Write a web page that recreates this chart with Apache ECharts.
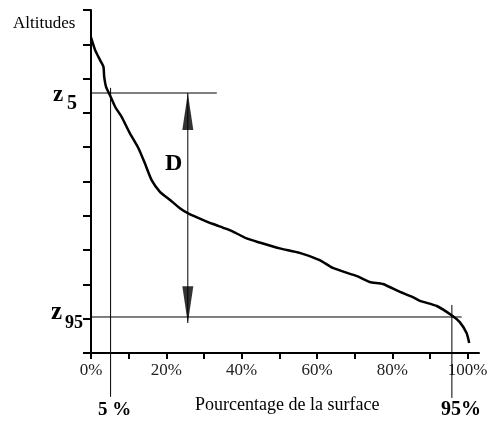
<!DOCTYPE html>
<html>
<head>
<meta charset="utf-8">
<script src="https://cdn.jsdelivr.net/npm/echarts@6/dist/echarts.min.js"></script>
<style>
    html, body { margin: 0; padding: 0; background: #fff; }
    #chart { width: 494px; height: 424px; }
</style>
</head>
<body>
<div id="chart"></div>
<script>
// Hypsometric curve: % of surface above a given altitude
const surfacePct = [0, 1.1, 2.4, 3.3, 3.5, 4.0, 5.0, 6.4, 8.1, 10.3, 12.6, 14.3, 16.1, 18.3, 21.0, 23.6, 25.8, 28.9,
    32.4, 35.1, 37.7, 41.3, 44.8, 50.1, 55.4, 60.7, 64.2, 70.6, 74.0, 77.5, 82.0, 85.4, 87.3, 91.8, 96.0, 97.9, 99.7, 100.4];
const altitude = [9.20, 8.83, 8.54, 8.35, 8.06, 7.76, 7.52, 7.18, 6.89, 6.41, 5.97, 5.53, 5.04, 4.70, 4.46, 4.22, 4.07, 3.92,
    3.76, 3.65, 3.54, 3.34, 3.22, 3.05, 2.92, 2.71, 2.48, 2.24, 2.07, 2.01, 1.78, 1.63, 1.52, 1.37, 1.08, 0.90, 0.58, 0.29];

const xTickValues = [0, 10, 20, 30, 40, 50, 60, 70, 80, 90, 100];
const xLabelValues = [0, 20, 40, 60, 80, 100];

// Reference levels
const z5 = 7.58;
const z95 = 1.05;
const p5 = 5.2;
const p95 = 95.8;
const arrowX = 25.7;
const arrowBottom = 0.875;

const serif = '"Liberation Serif", "DejaVu Serif", serif';

const chart = echarts.init(document.getElementById('chart'));

function refLine(points) {
    return {
        type: 'line',
        data: points,
        symbol: 'none',
        clip: false,
        silent: true,
        lineStyle: { color: '#000', width: 1 },
        z: 3
    };
}

function label(text, x, y, font) {
    return { type: 'text', x: x, y: y, style: { text: text, font: font, fill: '#000', verticalAlign: 'middle' } };
}

const option = {
    backgroundColor: '#fff',
    animation: false,
    grid: { left: 91, right: 15, top: 10, bottom: 71 },
    xAxis: {
        type: 'value',
        min: 0,
        max: 103,
        splitLine: { show: false },
        axisLine: { lineStyle: { color: '#000', width: 2 } },
        axisTick: {
            customValues: xTickValues,
            length: 6,
            lineStyle: { color: '#000', width: 2 }
        },
        axisLabel: {
            customValues: xLabelValues,
            formatter: v => v + '%',
            margin: 9,
            color: '#222',
            fontFamily: serif,
            fontSize: 17
        }
    },
    yAxis: {
        type: 'value',
        min: 0,
        max: 10,
        interval: 1,
        splitLine: { show: false },
        axisLine: { show: true, lineStyle: { color: '#000', width: 2 } },
        axisTick: { length: 8, lineStyle: { color: '#000', width: 2 } },
        axisLabel: { show: false }
    },
    series: [
        {
            type: 'line',
            data: surfacePct.map((p, i) => [p, altitude[i]]),
            symbol: 'none',
            smooth: 0.2,
            clip: false,
            lineStyle: { color: '#000', width: 2.5 },
            z: 4
        },
        refLine([[0, z5], [33.4, z5]]),
        refLine([[0, z95], [98.4, z95]]),
        refLine([[p5, 7.73], [p5, -1.28]]),
        refLine([[p95, 1.40], [p95, -1.31]]),
        refLine([[arrowX, z5], [arrowX, arrowBottom]]),
        {
            type: 'scatter',
            symbol: 'triangle',
            symbolSize: [11, 37],
            clip: false,
            itemStyle: { color: '#000' },
            data: [
                { value: [arrowX, 7.04] },
                { value: [arrowX, 1.41], symbolRotate: 180 }
            ],
            z: 5
        }
    ],
    graphic: [
        { type: 'text', left: 13, top: 15, style: { text: 'Altitudes', font: '17px ' + serif, fill: '#000' } },
        label('z', 53, 95, 'bold 23px ' + serif),
        label('5', 67, 104, 'bold 20px ' + serif),
        label('z', 51, 313, 'bold 25px ' + serif),
        label('95', 65, 323, 'bold 18px ' + serif),
        label('D', 165, 164, 'bold 24px ' + serif),
        label('5 %', 98, 410, 'bold 19px ' + serif),
        label('95%', 441, 410, 'bold 20px ' + serif),
        label('Pourcentage de la surface', 195, 405, '18px ' + serif)
    ]
};

chart.setOption(option);
</script>
</body>
</html>
